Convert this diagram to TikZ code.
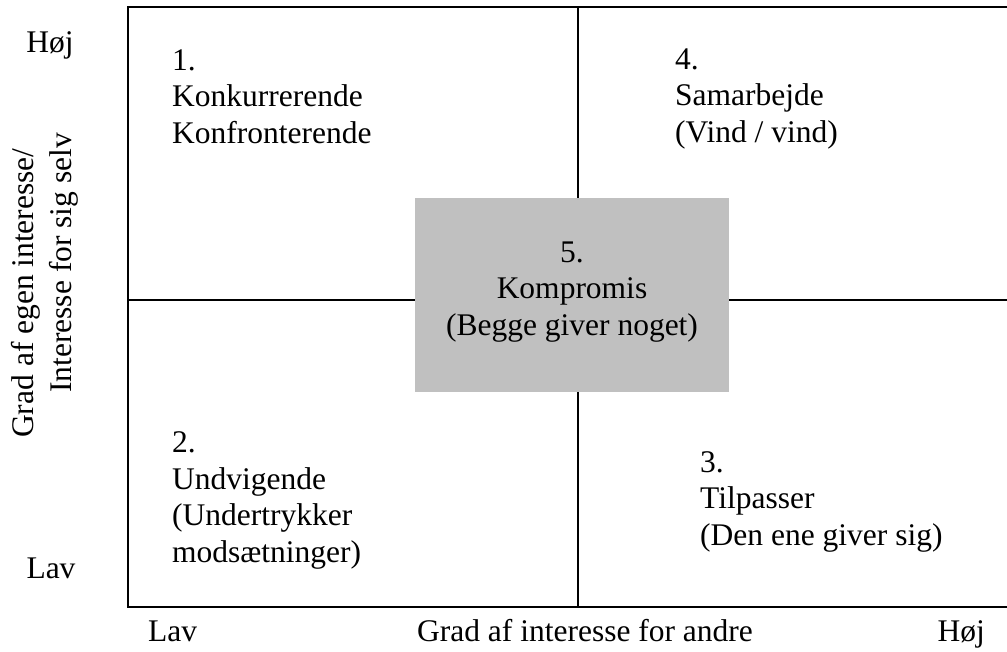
\documentclass[tikz,border=0pt]{standalone}
\usepackage{fontspec}
\setmainfont{Liberation Serif}
\definecolor{boxgray}{RGB}{192,192,192}
\begin{document}
\begin{tikzpicture}[x=1pt,y=-1pt,
  lbl/.style={inner sep=0pt,font=\fontsize{31.5}{36.5}\selectfont},
  qtext/.style={lbl,anchor=base west,align=left},
  grid/.style={line width=1.6pt,black},
  compbox/.style={fill=boxgray,draw=none,inner sep=0pt}]
\useasboundingbox (0,0) rectangle (1007,651);
% frame coordinates
\coordinate (tl) at (128,7);
\coordinate (bl) at (128,607);
\coordinate (tr) at (1007,7);
\coordinate (br) at (1007,607);
\coordinate (mt) at (578,7);
\coordinate (mb) at (578,607);
\coordinate (ml) at (128,300);
\coordinate (mr) at (1007,300);
\draw[grid] (tr) -- (tl) -- (bl) -- (br);
\draw[grid] (mt) -- (mb);
\draw[grid] (ml) -- (mr);
% compromise box
\fill[boxgray] (415,198) rectangle (729,392);
\node[lbl,anchor=base,align=center] (q5) at (572,335) {5.\\Kompromis\\(Begge giver noget)};
% quadrants (anchor = baseline of last line)
\node[qtext] (q1) at (172,143) {1.\\Konkurrerende\\Konfronterende};
\node[qtext] (q4) at (675,142) {4.\\Samarbejde\\(Vind / vind)};
\node[qtext] (q2) at (172,562) {2.\\Undvigende\\(Undertrykker\\modsætninger)};
\node[qtext] (q3) at (700,545) {3.\\Tilpasser\\(Den ene giver sig)};
% axis labels
\node[lbl,anchor=base] (yhigh) at (50,52) {Høj};
\node[lbl,anchor=base] (ylow) at (51,578) {Lav};
\node[lbl,anchor=base west,rotate=90] (ylab1) at (33,438) {Grad af egen interesse/};
\node[lbl,anchor=base west,rotate=90] (ylab2) at (71,393) {Interesse for sig selv};
\node[lbl,anchor=base west] (xlow) at (148,641) {Lav};
\node[lbl,anchor=base] (xlab) at (585,641) {Grad af interesse for andre};
\node[lbl,anchor=base east] (xhigh) at (985,641) {Høj};
\end{tikzpicture}
\end{document}
